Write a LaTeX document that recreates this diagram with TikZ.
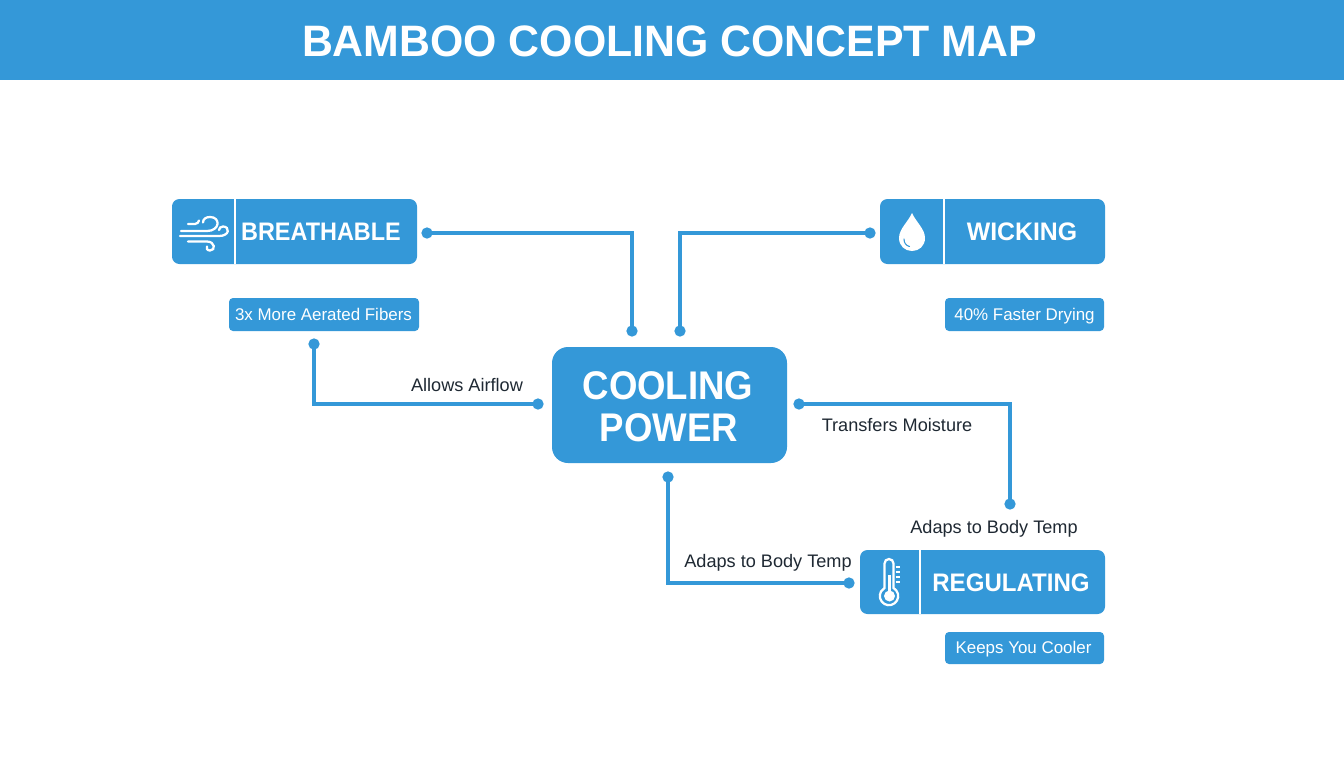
\documentclass[tikz,border=0pt]{standalone}
\usepackage{graphicx}
\usepackage{fontspec}
\setmainfont{Liberation Sans}
\newfontfamily\lblfont{Liberation Sans}
\definecolor{brandblue}{HTML}{3498D8}
\definecolor{inkdark}{HTML}{1F2933}
\tikzset{
  x=0.75pt,y=-0.75pt,
  box/.style={fill=brandblue,rounded corners=5.6pt},
  boxtxt/.style={text=white,font=\bfseries\fontsize{19}{22}\selectfont,inner sep=0pt,anchor=base},
  coretxt/.style={text=white,font=\bfseries\fontsize{30}{32}\selectfont,inner sep=0pt,anchor=base},
  subtxt/.style={text=white,font=\lblfont\fontsize{12.7}{16}\selectfont,inner sep=0pt,anchor=base},
  lbl/.style={text=inkdark,font=\lblfont\fontsize{13.6}{16}\selectfont,inner sep=0pt,anchor=base},
  dotnode/.style={circle,fill=brandblue,minimum size=8.5pt,inner sep=0pt},
  conn/.style={draw=brandblue,line width=2.3pt},
  divider/.style={draw=white,line width=1.5pt},
  icon/.style={draw=white,line width=1.7pt,line cap=round,fill=none},
}
\begin{document}
\begin{tikzpicture}
\useasboundingbox (0,0) rectangle (1344,768);
\fill[white] (0,0) rectangle (1344,768);
% title
\fill[brandblue] (0,0) rectangle (1344,80);
\node[text=white,font=\bfseries\fontsize{33}{38}\selectfont,inner sep=0pt,anchor=base] (title) at (669.5,56.5) {\scalebox{0.973}[1]{BAMBOO COOLING CONCEPT MAP}};
% boxes
\fill[box] (172,199) rectangle (417,264);
\draw[divider] (235,199) -- (235,264);
\node[boxtxt] (breath) at (321,240.5) {\scalebox{0.925}[1]{BREATHABLE}};
\fill[box] (880,199) rectangle (1105,264);
\draw[divider] (943.5,199) -- (943.5,264);
\node[boxtxt] (wick) at (1022,240.5) {\scalebox{0.98}[1]{WICKING}};
\fill[box] (860,550) rectangle (1105,614);
\draw[divider] (920,550) -- (920,614);
\node[boxtxt] (reg) at (1011,591.5) {\scalebox{0.95}[1]{REGULATING}};
% sub boxes
\fill[brandblue,rounded corners=3pt] (229,298) rectangle (419,331);
\node[subtxt] (s1) at (323.5,320) {3x More Aerated Fibers};
\fill[brandblue,rounded corners=3pt] (945,298) rectangle (1104,331);
\node[subtxt] (s2) at (1024.5,320) {40\% Faster Drying};
\fill[brandblue,rounded corners=3pt] (945,632) rectangle (1104,664);
\node[subtxt] (s3) at (1023.5,653.5) {Keeps You Cooler};
% centre
\fill[brandblue,rounded corners=12pt] (552,347) rectangle (787,463);
\node[coretxt] (core1) at (668,399) {\scalebox{0.915}[1]{COOLING}};
\node[coretxt] (core2) at (669,441) {\scalebox{0.915}[1]{POWER}};
% dots
\node[dotnode] (a1) at (427,233) {};
\node[dotnode] (a2) at (632,331) {};
\node[dotnode] (b1) at (870,233) {};
\node[dotnode] (b2) at (680,331) {};
\node[dotnode] (c1) at (314,344) {};
\node[dotnode] (c2) at (538,404) {};
\node[dotnode] (d1) at (799,404) {};
\node[dotnode] (d2) at (1010,504) {};
\node[dotnode] (e1) at (668,477) {};
\node[dotnode] (e2) at (849,583) {};
% connectors
\draw[conn] (a1.center) -| (a2.center);
\draw[conn] (b1.center) -| (b2.center);
\draw[conn] (c1.center) |- (c2.center);
\draw[conn] (d1.center) -| (d2.center);
\draw[conn] (e1.center) |- (e2.center);
% labels
\node[lbl] (l1) at (467,391.5) {Allows Airflow};
\node[lbl] (l2) at (897,431) {Transfers Moisture};
\node[lbl] (l3) at (994,533) {Adaps to Body Temp};
\node[lbl] (l4) at (768,567) {Adaps to Body Temp};
% wind icon
\draw[icon] (188,224) -- (195,224) .. controls (197,224) and (199,222) .. (199,220.5);
\draw[icon] (181,231) -- (207,231) .. controls (220,231) and (221,217) .. (210,217) .. controls (206,217) and (203,219) .. (203,222.5);
\draw[icon] (180,236) -- (219,236) .. controls (230,236) and (230,226.5) .. (223,226.5) .. controls (221,226.5) and (219,228) .. (219,230);
\draw[icon] (188,241.5) -- (207,241.5) .. controls (215,241.5) and (216,250.5) .. (210,250.5) .. controls (207,250.5) and (206,248) .. (207,246.5);
% drop icon
\fill[white] (912,213) .. controls (908,222) and (899,229) .. (899,238) .. controls (899,246) and (905,251) .. (912,251) .. controls (919,251) and (925,246) .. (925,238) .. controls (925,229) and (916,222) .. (912,213) -- cycle;
\draw[draw=brandblue,line width=0.8pt,line cap=round] (904,239) .. controls (904,243) and (906,245.5) .. (909.5,246.5);
% thermometer icon
\draw[icon] (884.5,563.5) arc (180:360:4.5) -- (893.5,588) arc (-60.6:240.6:9.18) -- cycle;
\fill[white] (888.3,575) rectangle (891.3,592);
\fill[white] (889.5,596) circle (5.5);
\foreach \yy in {567,572,577,582}{\draw[white,line width=0.9pt] (895.5,\yy) -- (900,\yy);}
\end{tikzpicture}
\end{document}
